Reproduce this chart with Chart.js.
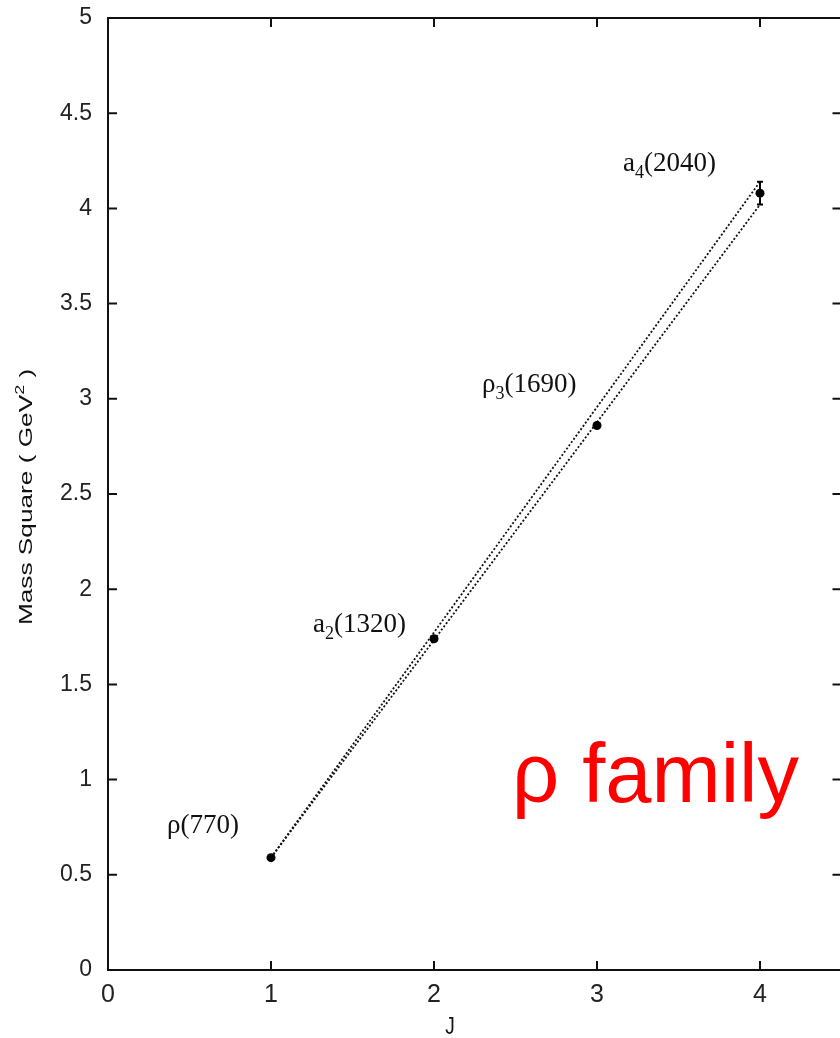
<!DOCTYPE html>
<html>
<head>
<meta charset="utf-8">
<script src="https://cdn.jsdelivr.net/npm/chart.js@4.4.1/dist/chart.umd.min.js"></script>
<style>
  html, body { margin: 0; padding: 0; background: #fff; overflow: hidden; }
  #wrap { width: 850px; height: 1038px; position: relative; }
</style>
</head>
<body>
<div id="wrap"><canvas id="regge"></canvas></div>
<script>
// --- data ---
const spins = [1, 2, 3, 4];
const massSquared = [0.59, 1.74, 2.86, 4.08];
const errMinus = [0, 0, 0, 0.06];
const errPlus = [0, 0, 0, 0.06];
const stateNames = ['ρ', 'a', 'ρ', 'a'];
const stateSubs = ['', '2', '3', '4'];
const stateMasses = ['(770)', '(1320)', '(1690)', '(2040)'];
const fitJ = [1, 4];
const upperFit = [0.59, 4.14];
const lowerFit = [0.59, 4.02];
const xTicks = [0, 1, 2, 3, 4];
const yTicks = [0, 0.5, 1, 1.5, 2, 2.5, 3, 3.5, 4, 4.5, 5];

const sans = "'Liberation Sans', Arial, sans-serif";
const serif = "'Liberation Serif', 'Times New Roman', serif";

// pixel offsets of each state label from its point
const labelOffsets = [[-104, -25], [-121, -7], [-115, -33], [-137, -22]];

const framePlugin = {
    id: 'frame',
    afterDatasetsDraw(chart) {
        const { ctx, chartArea: a, scales: { x, y } } = chart;
        ctx.save();
        ctx.strokeStyle = '#000';
        ctx.fillStyle = '#000';

        // error bars
        ctx.lineWidth = 2;
        spins.forEach((j, i) => {
            if (!errMinus[i] && !errPlus[i]) return;
            const px = x.getPixelForValue(j);
            const y1 = y.getPixelForValue(massSquared[i] - errMinus[i]);
            const y2 = y.getPixelForValue(massSquared[i] + errPlus[i]);
            ctx.beginPath();
            ctx.moveTo(px, y1); ctx.lineTo(px, y2);
            ctx.moveTo(px - 3, y1); ctx.lineTo(px + 3, y1);
            ctx.moveTo(px - 3, y2); ctx.lineTo(px + 3, y2);
            ctx.stroke();
        });

        // frame + inward ticks
        ctx.lineWidth = 2;
        ctx.strokeStyle = '#111';
        ctx.strokeRect(a.left, a.top, a.right - a.left, a.bottom - a.top);
        ctx.beginPath();
        xTicks.forEach(v => {
            if (v === 0) return;
            const px = x.getPixelForValue(v);
            ctx.moveTo(px, a.bottom); ctx.lineTo(px, a.bottom - 9);
            ctx.moveTo(px, a.top); ctx.lineTo(px, a.top + 9);
        });
        yTicks.forEach(v => {
            if (v === 0 || v === 5) return;
            const py = y.getPixelForValue(v);
            ctx.moveTo(a.left, py); ctx.lineTo(a.left + 9, py);
            ctx.moveTo(a.right, py); ctx.lineTo(a.right - 9, py);
        });
        ctx.stroke();

        // state labels
        ctx.textBaseline = 'alphabetic';
        ctx.textAlign = 'left';
        ctx.fillStyle = '#111';
        spins.forEach((j, i) => {
            let tx = x.getPixelForValue(j) + labelOffsets[i][0];
            const ty = y.getPixelForValue(massSquared[i]) + labelOffsets[i][1];
            ctx.font = `27px ${serif}`;
            ctx.fillText(stateNames[i], tx, ty);
            tx += ctx.measureText(stateNames[i]).width;
            if (stateSubs[i]) {
                ctx.font = `18px ${serif}`;
                ctx.fillText(stateSubs[i], tx, ty + 7);
                tx += ctx.measureText(stateSubs[i]).width;
            }
            ctx.font = `27px ${serif}`;
            ctx.fillText(stateMasses[i], tx, ty);
        });

        // y axis title (stretched along its length like the source)
        ctx.fillStyle = '#111';
        ctx.save();
        ctx.translate(27, (a.top + a.bottom) / 2 + 3);
        ctx.rotate(-Math.PI / 2);
        ctx.scale(1.38, 1);
        ctx.textBaseline = 'middle';
        const p1 = 'Mass Square ( GeV', p3 = ' )';
        ctx.font = `13px ${sans}`;
        const w2 = ctx.measureText('2').width;
        ctx.font = `19px ${sans}`;
        const w1 = ctx.measureText(p1).width, w3 = ctx.measureText(p3).width;
        let sx = -(w1 + w2 + w3) / 2;
        ctx.fillText(p1, sx, 0); sx += w1;
        ctx.font = `13px ${sans}`;
        ctx.fillText('2', sx, -7); sx += w2;
        ctx.font = `19px ${sans}`;
        ctx.fillText(p3, sx, 0);
        ctx.restore();

        // x axis title
        ctx.save();
        ctx.translate(450, 1027);
        ctx.scale(1, 1.3);
        ctx.textAlign = 'center';
        ctx.textBaseline = 'middle';
        ctx.font = `19px ${sans}`;
        ctx.fillText('J', 0, 0);
        ctx.restore();

        // family tag
        ctx.fillStyle = '#ff0000';
        ctx.font = `83px ${sans}`;
        ctx.textAlign = 'left';
        ctx.textBaseline = 'alphabetic';
        ctx.fillText('ρ family', a.left + 404, a.top + 784);

        ctx.restore();
    }
};

new Chart(document.getElementById('regge'), {
    type: 'scatter',
    data: {
        datasets: [{
            data: spins.map((j, i) => ({ x: j, y: massSquared[i] })),
            pointRadius: 4.5,
            pointBackgroundColor: '#000',
            pointBorderWidth: 0,
            showLine: false,
            order: 0
        }, {
            data: fitJ.map((j, i) => ({ x: j, y: upperFit[i] })),
            showLine: true,
            borderColor: '#111',
            borderWidth: 1.8,
            borderDash: [2, 2],
            pointRadius: 0,
            order: 1
        }, {
            data: fitJ.map((j, i) => ({ x: j, y: lowerFit[i] })),
            showLine: true,
            borderColor: '#111',
            borderWidth: 1.8,
            borderDash: [2, 2],
            pointRadius: 0,
            order: 1
        }]
    },
    options: {
        responsive: true,
        maintainAspectRatio: false,
        animation: false,
        layout: { padding: { top: 18, right: 8.5, left: 0, bottom: 0 } },
        plugins: { legend: { display: false }, tooltip: { enabled: false } },
        scales: {
            x: {
                type: 'linear',
                min: 0,
                max: 4.5,
                afterBuildTicks: (s) => { s.ticks = xTicks.map(v => ({ value: v })); },
                afterFit: (s) => { s.height = 68; s.paddingLeft = 0; s.paddingRight = 0; },
                grid: { display: false, drawTicks: false },
                border: { display: false },
                ticks: { padding: 10, color: '#222', font: { family: sans, size: 25 }, callback: (v) => String(v) }
            },
            y: {
                type: 'linear',
                min: 0,
                max: 5,
                afterBuildTicks: (s) => { s.ticks = yTicks.map(v => ({ value: v })); },
                afterFit: (s) => { s.width = 108; s.paddingTop = 0; s.paddingBottom = 0; },
                grid: { display: false, drawTicks: false },
                border: { display: false },
                ticks: { padding: 16, color: '#222', font: { family: sans, size: 23 }, callback: (v) => String(v) }
            }
        }
    },
    plugins: [framePlugin]
});
</script>
</body>
</html>
